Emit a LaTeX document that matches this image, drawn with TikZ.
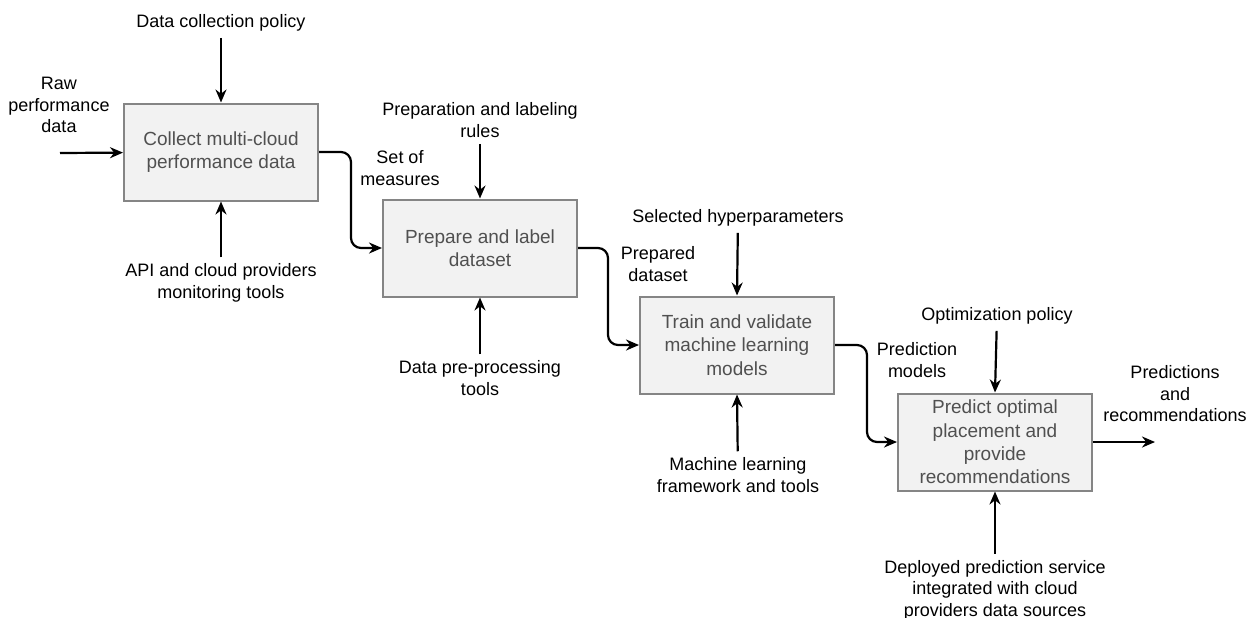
\documentclass[tikz,border=0pt]{standalone}
\usepackage{fontspec}
\setmainfont{Liberation Sans}
\usetikzlibrary{arrows.meta}

\definecolor{boxfill}{HTML}{F2F2F2}
\definecolor{boxline}{HTML}{858585}
\definecolor{boxtext}{HTML}{505050}

\begin{document}
\begin{tikzpicture}[x=0.5pt,y=-0.5pt]
        \useasboundingbox (0,0) rectangle (1252,617);

        \begin{scope}[every node/.style={draw=boxline,fill=boxfill,line width=1pt,
            minimum width=97pt,minimum height=48.5pt,inner sep=1pt,align=center,
            text=boxtext,font=\fontsize{9.5}{11.7}\selectfont}]
          \node (collect) at (221,152) {Collect multi-cloud\\performance data};
          \node (prepare) at (480,248) {Prepare and label\\dataset};
          \node (train)   at (737,345) {Train and validate\\machine learning\\models};
          \node (predict) at (995,442) {Predict optimal\\placement and\\provide\\recommendations};
        \end{scope}

        \begin{scope}[every node/.style={align=center,inner sep=3pt,
            font=\fontsize{9}{10.75}\selectfont}]
          \node (policy)   at (221,23)   {Data collection policy};
          \node (raw)      at (59,105)   {Raw\\performance\\data};
          \node (api)      at (221,283)  {API and cloud providers\\monitoring tools};
          \node (rules)    at (480,120)  {Preparation and labeling\\rules};
          \node (measures) at (400,168)  {Set of\\measures};
          \node (preproc)  at (480,378)  {Data pre-processing\\tools};
          \node (hyper)    at (738,218)  {Selected hyperparameters};
          \node (prepds)   at (658,264)  {Prepared\\dataset};
          \node (mlfw)     at (738,475)  {Machine learning\\framework and tools};
          \node (optim)    at (997,316)  {Optimization policy};
          \node (predmod)  at (917,360)  {Prediction\\models};
          \node (recs)     at (1175,394) {Predictions\\and\\recommendations};
          \node (deploy)   at (995,590)  {Deployed prediction service\\integrated with cloud\\providers data sources};
        \end{scope}

        \coordinate (rawin)  at (60,153);
        \coordinate (recout) at (1155,442);

        \begin{scope}[every edge/.style={draw,line width=1.1pt,-{Stealth[length=6.5pt,width=5.5pt]}},
            flow/.style={line width=1.1pt,rounded corners=5pt,-{Stealth[length=6.5pt,width=5.5pt]}}]
          % inputs and controls
          \path (rawin)   edge (collect);
          \path (policy)  edge (collect.north);
          \path (api)     edge (collect.south);
          \path (rules)   edge (prepare.north);
          \path (preproc) edge (prepare.south);
          \path (hyper)   edge (train.north);
          \path (mlfw)    edge (train.south);
          \path (optim)   edge (predict.north);
          \path (deploy)  edge (predict.south);
          \path (predict) edge (recout);

          % flow between stages
          \draw[flow] (collect.east) -- ++(32,0) |- (prepare.west);
          \draw[flow] (prepare.east) -- ++(30,0) |- (train.west);
          \draw[flow] (train.east)   -- ++(32,0) |- (predict.west);
        \end{scope}

      \end{tikzpicture}
\end{document}
